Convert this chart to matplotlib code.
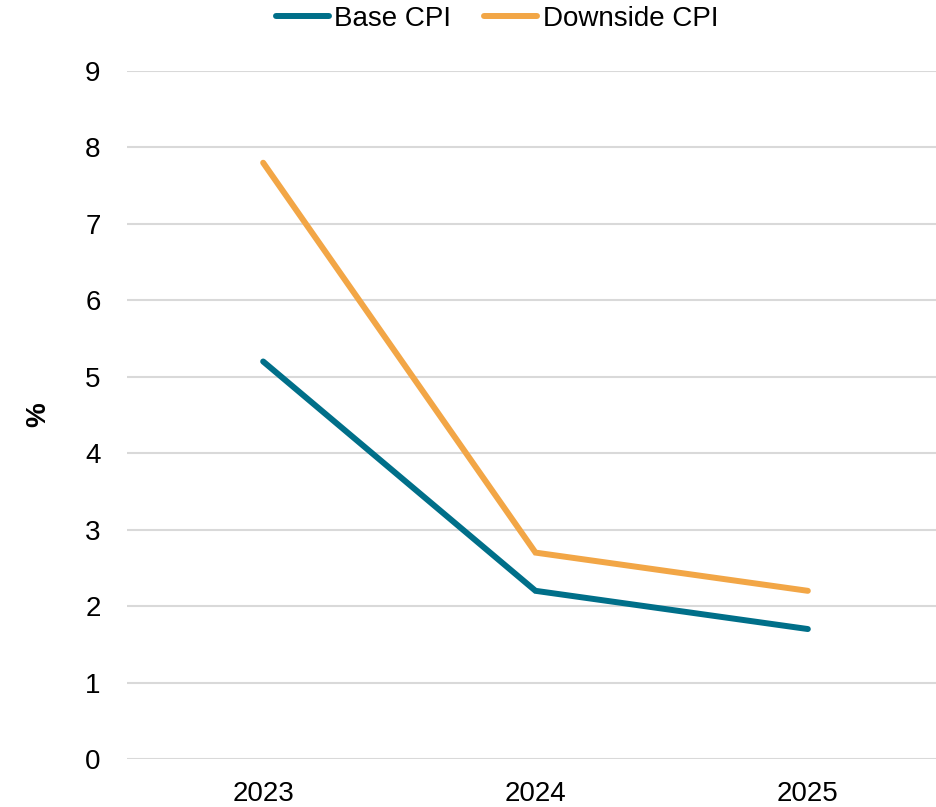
import matplotlib
matplotlib.use("Agg")
import matplotlib.pyplot as plt

plt.rcParams['font.family'] = ['Liberation Sans', 'DejaVu Sans']

years = ["2023", "2024", "2025"]
base_cpi = [5.2, 2.2, 1.7]
downside_cpi = [7.8, 2.7, 2.2]
y_ticks = [0, 1, 2, 3, 4, 5, 6, 7, 8, 9]

W, H, DPI = 936, 807, 100
fig = plt.figure(figsize=(W / DPI, H / DPI), dpi=DPI)
left, right = 127 / W, 944 / W
bottom, top = 1 - 759 / H, 1 - 71 / H
ax = fig.add_axes([left, bottom, right - left, top - bottom])

x = list(range(len(years)))
ax.plot(x, base_cpi, color="#006F89", lw=4.3, solid_capstyle="round",
        solid_joinstyle="miter", label="Base CPI", zorder=3)
ax.plot(x, downside_cpi, color="#F2A646", lw=4.3, solid_capstyle="round",
        solid_joinstyle="miter", label="Downside CPI", zorder=3)

ax.set_xlim(-0.5, 2.5)
ax.set_ylim(0, 9)
ax.set_yticks(y_ticks)
ax.set_xticks(x)
ax.set_xticklabels(years)
ax.tick_params(axis='both', length=0, labelsize=20, colors='black')
ax.tick_params(axis='y', pad=19)
ax.tick_params(axis='x', pad=16)
ax.grid(axis='y', color="#D9D9D9", lw=1.5)
ax.set_axisbelow(True)
for s in ax.spines.values():
    s.set_visible(False)

fig.text(38 / W, 1 - 415 / H, "%", rotation=90, fontsize=20, fontweight='bold',
         ha='center', va='center')

fig.legend(loc='center', bbox_to_anchor=(497 / W, 1 - 19 / H), ncol=2,
           frameon=False, fontsize=20, handlelength=1.9, handletextpad=0.2,
           columnspacing=1.2, borderaxespad=0)

fig.savefig("out.png", dpi=DPI)
